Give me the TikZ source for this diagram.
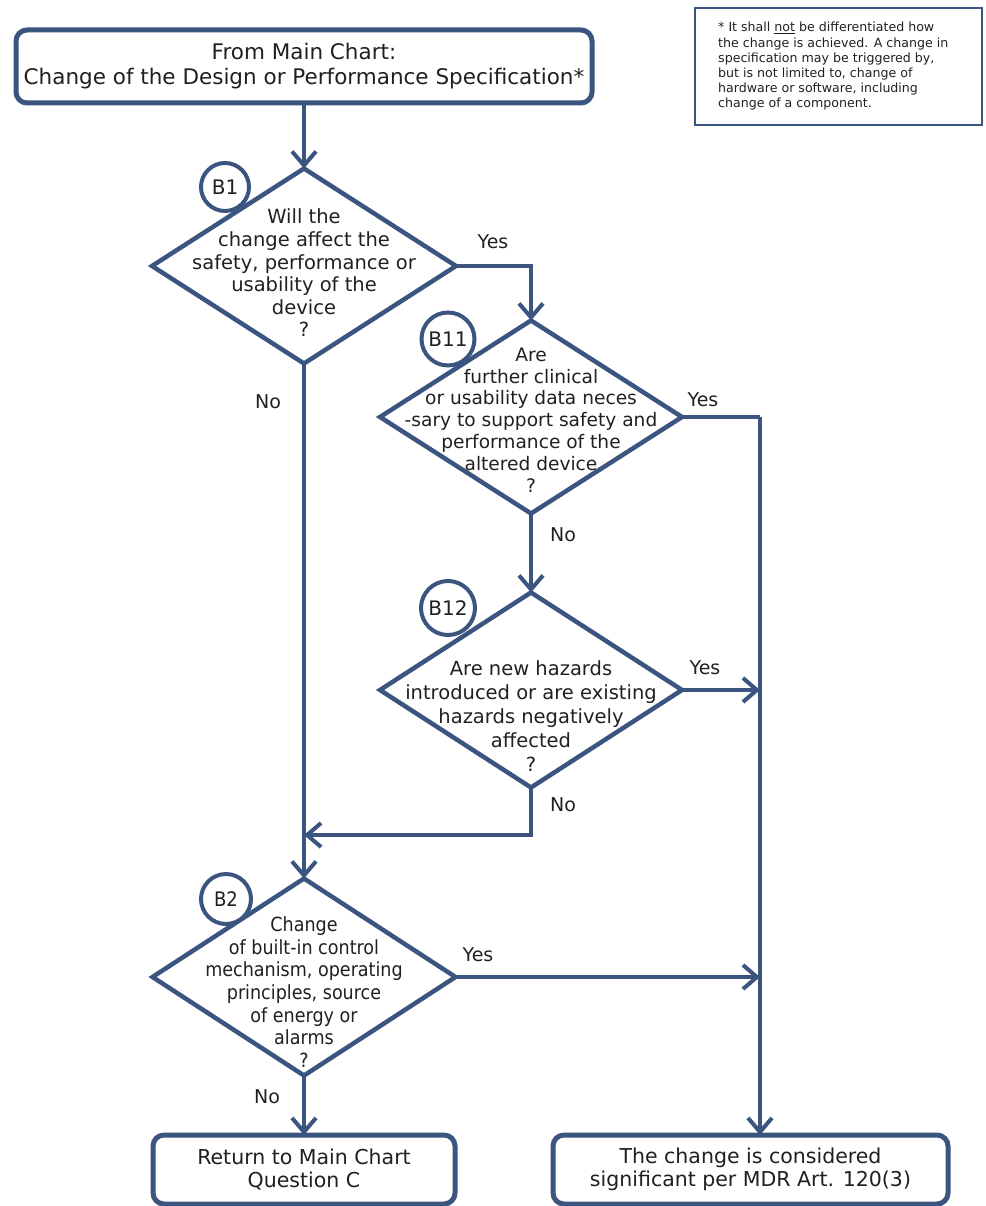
\documentclass[tikz,border=0pt]{standalone}
\usepackage{fontspec}
\setmainfont{DejaVu Sans}
\newfontfamily\condfont{DejaVu Sans}[FakeStretch=0.9]
\usetikzlibrary{shapes.geometric,arrows.meta}
\definecolor{lc}{HTML}{3C5480}
\definecolor{tc}{HTML}{231F20}
\begin{document}
\begin{tikzpicture}[x=1pt,y=-1pt,
  line/.style={draw=lc, line width=4pt},
  arr/.style={line, -{Straight Barb[length=14pt,width=24pt]}},
  box/.style={draw=lc, line width=5pt, rounded corners=11pt, fill=white, inner sep=0pt, outer sep=0pt, text=tc, align=center},
  dia/.style={diamond, draw=lc, line width=4.5pt, inner sep=0pt, outer sep=0pt},
  dtext/.style={align=center, text=tc, inner sep=0pt},
  badge/.style={circle, draw=lc, line width=4pt, fill=white, inner sep=0pt, outer sep=0pt, text=tc, font=\fontsize{20}{22}\selectfont},
  lab/.style={text=tc, inner sep=0pt, font=\fontsize{19}{22}\selectfont}
]
\useasboundingbox (0,0) rectangle (985,1206);

% note box
\node[draw=lc, line width=1.5pt, minimum width=287, minimum height=117, inner sep=0pt] (note) at (838.5,66.5) {};
\node[anchor=west, align=left, text=tc, inner sep=0pt, font=\fontsize{12.6}{15.2}\selectfont] (notetext) at (718,66.5)
  {* It shall \underline{not} be differentiated how\\the change is achieved. A change in\\specification may be triggered by,\\but is not limited to, change of\\hardware or software, including\\change of a component.};

% top box
\node[box, minimum width=576, minimum height=73, font=\fontsize{21.5}{25}\selectfont] (top) at (304,66.5)
  {From Main Chart:\\Change of the Design or Performance Specification*};

% diamonds
\node[dia, minimum width=304, minimum height=195] (b1) at (304,266) {};
\node[dtext, font=\fontsize{19.5}{22.6}\selectfont] (b1t) at (304,273)
  {Will the\\change affect the\\safety, performance or\\usability of the\\device\\?};

\node[dia, minimum width=302, minimum height=193] (b11) at (531,417) {};
\node[dtext, font=\fontsize{18.6}{21.8}\selectfont] (b11t) at (531,420)
  {Are\\further clinical\\or usability data neces\\-sary to support safety and\\performance of the\\altered device\\?};

\node[dia, minimum width=302, minimum height=195] (b12) at (531,690) {};
\node[dtext, font=\fontsize{19.5}{24}\selectfont] (b12t) at (531,716)
  {Are new hazards\\introduced or are existing\\hazards negatively\\affected\\?};

\node[dia, minimum width=303, minimum height=197] (b2) at (304,977) {};
\node[dtext, font=\condfont\fontsize{19.5}{22.6}\selectfont] (b2t) at (304,992)
  {Change\\of built-in control\\mechanism, operating\\principles, source\\of energy or\\alarms\\?};

% bottom boxes
\node[box, minimum width=302, minimum height=69, font=\fontsize{20.5}{23.5}\selectfont] (ret) at (304,1169.5)
  {Return to Main Chart\\Question C};
\node[box, minimum width=395, minimum height=69, font=\fontsize{20.5}{23.5}\selectfont] (sig) at (750.5,1169.5)
  {The change is considered\\significant per MDR Art. 120(3)};

% connectors
\coordinate (vr) at (760,417);
\coordinate (join) at (304,835);
\draw[arr] (top.south) -- (b1.north);
\draw[arr] (b1.east) -| (b11.north);
\draw[arr] (b11.south) -- (b12.north);
\draw[line] (b11.east) -- (vr);
\draw[arr] (vr) -- (vr |- sig.north);
\draw[arr] (b12.east) -- (vr |- b12.east);
\draw[arr] (b12.south) |- (join);
\draw[arr] (b1.south) -- (b2.north);
\draw[arr] (b2.east) -- (vr |- b2.east);
\draw[arr] (b2.south) -- (ret.north);

% badges
\node[badge, minimum size=48] (c1) at (225,187) {B1};
\node[badge, minimum size=53] (c11) at (448,339) {B11};
\node[badge, minimum size=54] (c12) at (448,608) {B12};
\node[badge, minimum size=50, font=\condfont\fontsize{20}{22}\selectfont] (c2) at (226,899) {B2};

% labels
\node[lab] (y1) at (493,242) {Yes};
\node[lab] (n1) at (268,402) {No};
\node[lab] (y11) at (703,400) {Yes};
\node[lab] (n11) at (563,535) {No};
\node[lab] (y12) at (705,668) {Yes};
\node[lab] (n12) at (563,805) {No};
\node[lab] (y2) at (478,955) {Yes};
\node[lab] (n2) at (267,1097) {No};
\end{tikzpicture}
\end{document}
